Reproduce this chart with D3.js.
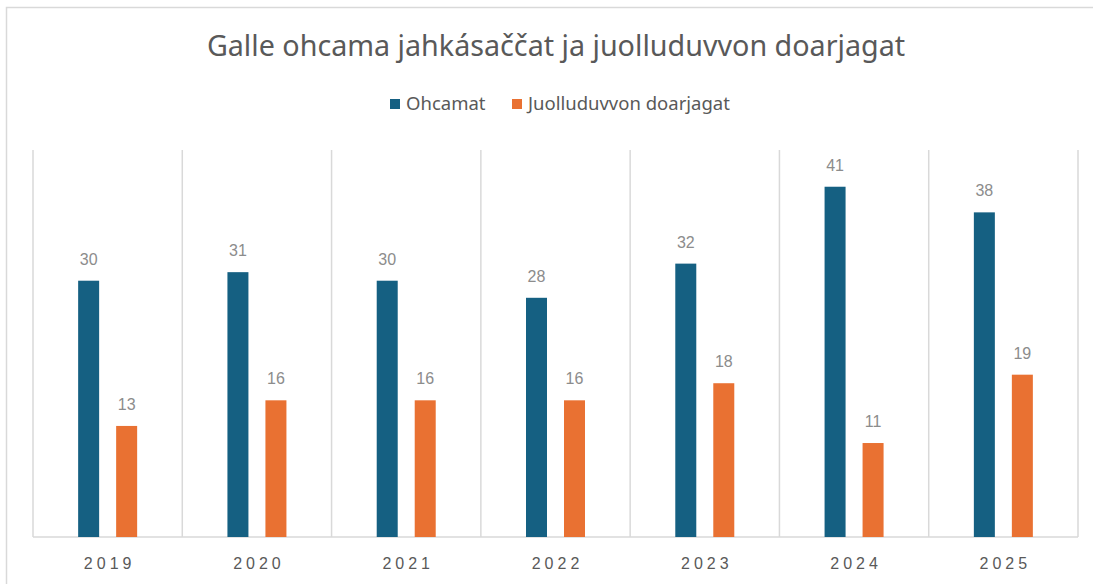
<!DOCTYPE html>
<html>
<head>
<meta charset="utf-8">
<script src="https://cdn.jsdelivr.net/npm/d3@7"></script>
<style>
  body { margin: 0; background: #fff; }
</style>
</head>
<body>
<svg id="chart"></svg>
<script>
const years = ['2019', '2020', '2021', '2022', '2023', '2024', '2025'];
const seriesNames = ['Ohcamat', 'Juolluduvvon doarjagat'];
const ohcamat = [30, 31, 30, 28, 32, 41, 38];
const doarjagat = [13, 16, 16, 16, 18, 11, 19];
const colors = ['#156082', '#E97132'];

const width = 1093, height = 584;
const margin = {top: 150, right: 15, bottom: 47, left: 33};

const svg = d3.select('#chart')
    .attr('width', width)
    .attr('height', height);

// outer chart border
svg.append('rect')
    .attr('x', 6.5).attr('y', 7.5)
    .attr('width', 1110).attr('height', 600)
    .attr('fill', 'none')
    .attr('stroke', '#d9d9d9')
    .attr('stroke-width', 1.5);

const x = d3.scaleBand()
    .domain(years)
    .range([margin.left, width - margin.right]);

const y = d3.scaleLinear()
    .domain([0, 45.3])
    .range([height - margin.bottom, margin.top]);

const sub = d3.scaleOrdinal()
    .domain([0, 1])
    .range([-19, 19]);

const barW = 21;

// vertical category separators
svg.append('g')
    .selectAll('line')
    .data(years.concat(['end']))
    .join('line')
    .attr('x1', (d, i) => margin.left + i * x.bandwidth())
    .attr('x2', (d, i) => margin.left + i * x.bandwidth())
    .attr('y1', margin.top)
    .attr('y2', y(0))
    .attr('stroke', '#d9d9d9')
    .attr('stroke-width', 1.5);

// baseline
svg.append('line')
    .attr('x1', margin.left).attr('x2', width - margin.right)
    .attr('y1', y(0)).attr('y2', y(0))
    .attr('stroke', '#d9d9d9')
    .attr('stroke-width', 1.5);

const rows = years.map((yr, i) => ({year: yr, values: [ohcamat[i], doarjagat[i]]}));

const groups = svg.append('g')
    .selectAll('g')
    .data(rows)
    .join('g')
    .attr('transform', d => `translate(${x(d.year) + x.bandwidth() / 2},0)`);

groups.selectAll('rect')
    .data(d => d.values.map((v, k) => ({v, k})))
    .join('rect')
    .attr('x', d => sub(d.k) - barW / 2)
    .attr('y', d => y(d.v))
    .attr('width', barW)
    .attr('height', d => y(0) - y(d.v))
    .attr('fill', d => colors[d.k]);

groups.selectAll('text')
    .data(d => d.values.map((v, k) => ({v, k})))
    .join('text')
    .attr('x', d => sub(d.k))
    .attr('y', d => y(d.v) - 16)
    .attr('text-anchor', 'middle')
    .style('font-family', '"Liberation Sans", Arial, sans-serif')
    .style('font-size', '16px')
    .attr('fill', '#8c8c8c')
    .text(d => d.v);

// x axis labels
svg.append('g')
    .selectAll('text')
    .data(years)
    .join('text')
    .attr('x', d => x(d) + x.bandwidth() / 2 + 2)
    .attr('y', y(0) + 32)
    .attr('text-anchor', 'middle')
    .style('font-family', '"Liberation Sans", Arial, sans-serif')
    .style('font-size', '16px')
    .style('letter-spacing', '4px')
    .attr('fill', '#595959')
    .text(d => d);

// title
svg.append('text')
    .attr('x', 556)
    .attr('y', 56)
    .attr('text-anchor', 'middle')
    .style('font-family', '"Noto Sans", sans-serif')
    .style('font-size', '28.7px')
    .attr('fill', '#595959')
    .text('Galle ohcama jahkásaččat ja juolluduvvon doarjagat');

// legend
const legendX = [390, 512];
const legend = svg.append('g')
    .selectAll('g')
    .data(seriesNames)
    .join('g')
    .attr('transform', (d, i) => `translate(${legendX[i]},104)`);

legend.append('rect')
    .attr('x', 0).attr('y', -5)
    .attr('width', 10).attr('height', 10)
    .attr('fill', (d, i) => colors[i]);

legend.append('text')
    .attr('x', 16)
    .attr('y', 6)
    .style('font-family', '"Noto Sans", sans-serif')
    .style('font-size', '18.5px')
    .attr('fill', '#595959')
    .text(d => d);
</script>
</body>
</html>
